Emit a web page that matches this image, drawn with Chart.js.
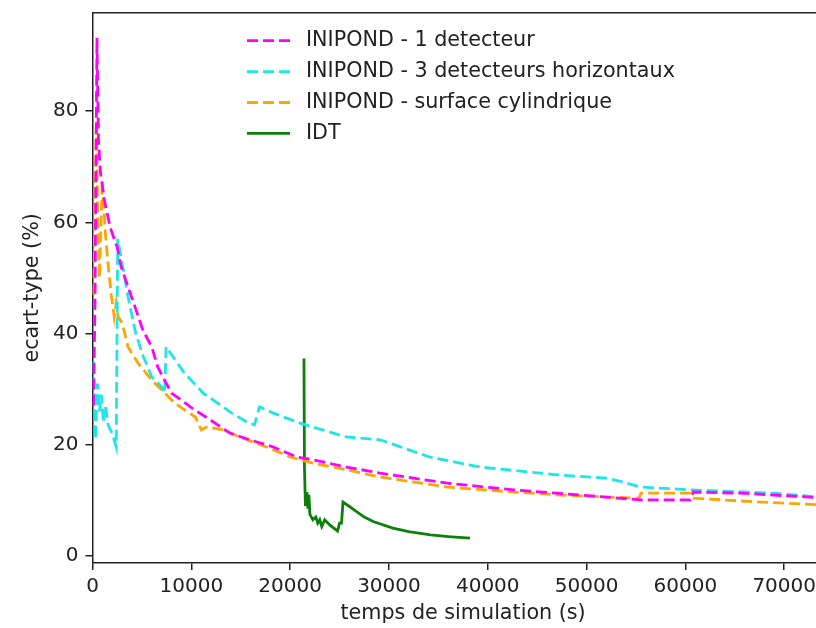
<!DOCTYPE html>
<html>
<head>
<meta charset="utf-8">
<script src="https://cdn.jsdelivr.net/npm/chart.js@4.4.0/dist/chart.umd.min.js"></script>
<style>
  html, body { margin: 0; padding: 0; overflow: hidden; background: #fff; }
  canvas { display: block; }
</style>
</head>
<body>
<canvas id="myChart" width="850" height="628"></canvas>
<script>
// series: time (s) and std deviation (%)
const det1T = [100, 250, 450, 600, 800, 1200, 1800, 2500, 2900, 3600, 4300, 5100, 6000, 6600, 7300, 8000, 9900, 11900, 13900, 15900, 18300, 20700, 22300, 25700, 29100, 35900, 42600, 47000, 52000, 55400, 60500, 60800, 65500, 73500];
const det1V = [27, 45, 93.2, 75, 69, 64, 59, 55.5, 52, 48.4, 44.8, 40.6, 37.6, 34, 31.6, 29.3, 26.8, 24.5, 22.1, 20.9, 19.6, 17.8, 17.3, 16, 14.9, 13.1, 11.9, 11.3, 10.6, 10.1, 10.1, 11.5, 11.3, 10.5];

const det3T = [100, 300, 500, 700, 900, 1100, 1300, 1600, 2000, 2400, 2550, 2990, 3600, 4300, 5000, 6000, 7000, 7300, 7450, 9300, 11200, 14100, 15800, 16400, 16900, 18300, 21000, 22300, 25700, 29100, 34100, 39200, 47000, 52000, 53700, 55400, 60500, 68900, 73500];
const det3V = [35, 21, 31, 26, 29, 24, 27, 23.5, 22, 19.6, 57, 52.7, 46.6, 40.6, 36.5, 32.2, 30.4, 29.3, 37.6, 32.9, 29.3, 25.7, 23.9, 23.6, 26.8, 25.7, 23.9, 23.2, 21.4, 20.9, 17.8, 16, 14.6, 14, 13.3, 12.4, 11.9, 11.3, 10.6];

const cylT = [100, 400, 550, 700, 1000, 1300, 1600, 1900, 2200, 2400, 2600, 3000, 3600, 4600, 6000, 7000, 8300, 10400, 11000, 11600, 13200, 14900, 17600, 20000, 22300, 25700, 29100, 35900, 42600, 47000, 52000, 55300, 55500, 60500, 60800, 65500, 73500];
const cylV = [47, 78.4, 58, 50, 67.6, 58, 52, 47, 43, 45.5, 43, 41.9, 37.6, 34.7, 31.6, 29.9, 27.5, 25, 22.7, 23.2, 22.7, 21.4, 19.6, 17.8, 16.7, 15.5, 14.2, 12.4, 11.5, 11, 10.6, 10.4, 11.3, 11.3, 10.4, 9.9, 9.2];

const idtT = [21400, 21450, 21550, 21700, 21800, 21900, 22000, 22300, 22600, 22800, 23000, 23200, 23500, 24000, 24800, 25000, 25200, 25350, 26000, 26800, 27500, 28400, 30400, 32000, 34200, 36000, 38200];
const idtV = [35.5, 16, 9, 11.5, 8.5, 11, 7.5, 6.5, 7, 5.9, 6.5, 5.3, 6.5, 5.6, 4.5, 5.9, 5.9, 9.7, 8.9, 7.9, 7.0, 6.2, 5.0, 4.4, 3.8, 3.5, 3.2];

const xTicks = [0, 10000, 20000, 30000, 40000, 50000, 60000, 70000];
const yTicks = [0, 20, 40, 60, 80];

const toPoints = (t, v) => t.map((x, i) => ({ x: x, y: v[i] }));

Chart.defaults.font.family = '"DejaVu Sans", sans-serif';
Chart.defaults.font.size = 20;
Chart.defaults.color = '#222';

// matplotlib-like legend in the upper middle of the axes, plus the top spine
const frameAndLegend = {
  id: 'frameAndLegend',
  afterDraw(chart) {
    const ctx = chart.ctx;
    const a = chart.chartArea;
    ctx.save();
    ctx.strokeStyle = '#222';
    ctx.lineWidth = 1.5;
    ctx.beginPath();
    ctx.moveTo(a.left, a.top);
    ctx.lineTo(a.right, a.top);
    ctx.stroke();

    ctx.font = '20.7px "DejaVu Sans"';
    ctx.textBaseline = 'middle';
    chart.data.datasets.forEach((ds, i) => {
      const x = a.left + 154.5;
      const y = a.top + 28 + i * 30.9;
      ctx.strokeStyle = ds.borderColor;
      ctx.lineWidth = ds.borderWidth;
      ctx.setLineDash(ds.borderDash || []);
      ctx.beginPath();
      ctx.moveTo(x, y);
      ctx.lineTo(x + 43, y);
      ctx.stroke();
      ctx.setLineDash([]);
      ctx.fillStyle = '#222';
      ctx.fillText(ds.label, x + 59, y);
    });
    ctx.restore();
  }
};

const ctx = document.getElementById('myChart').getContext('2d');
const myChart = new Chart(ctx, {
  type: 'line',
  data: {
    datasets: [
      {
        label: 'INIPOND - 1 detecteur',
        data: toPoints(det1T, det1V),
        borderColor: '#ff00ff',
        borderWidth: 2.8,
        borderDash: [11, 5],
        pointRadius: 0,
        tension: 0,
        fill: false
      },
      {
        label: 'INIPOND - 3 detecteurs horizontaux',
        data: toPoints(det3T, det3V),
        borderColor: '#1ee6e6',
        borderWidth: 2.8,
        borderDash: [11, 5],
        pointRadius: 0,
        tension: 0,
        fill: false
      },
      {
        label: 'INIPOND - surface cylindrique',
        data: toPoints(cylT, cylV),
        borderColor: '#ffa500',
        borderWidth: 2.8,
        borderDash: [11, 5],
        pointRadius: 0,
        tension: 0,
        fill: false
      },
      {
        label: 'IDT',
        data: toPoints(idtT, idtV),
        borderColor: '#0b800b',
        borderWidth: 2.8,
        pointRadius: 0,
        tension: 0,
        fill: false
      }
    ]
  },
  options: {
    responsive: false,
    animation: false,
    devicePixelRatio: 1,
    layout: { padding: { left: 0, top: 12.7, right: 16.4, bottom: 0 } },
    plugins: {
      legend: { display: false },
      tooltip: { enabled: false }
    },
    scales: {
      x: {
        type: 'linear',
        min: 0,
        max: 75000,
        afterBuildTicks: (s) => { s.ticks = xTicks.map(v => ({ value: v })); },
        afterFit: (s) => { s.height = 65; s.paddingLeft = 0; s.paddingRight = 0; },
        ticks: {
          padding: 5,
          maxRotation: 0,
          autoSkip: false,
          callback: (v) => String(v)
        },
        grid: { drawOnChartArea: false, drawTicks: true, tickLength: 7, color: '#222', lineWidth: 1.5 },
        border: { display: true, color: '#222', width: 1.5 },
        title: { display: true, text: 'temps de simulation (s)', font: { size: 20.7 }, padding: { top: 0, bottom: 2 } }
      },
      y: {
        min: -1.26,
        max: 97.7,
        afterBuildTicks: (s) => { s.ticks = yTicks.map(v => ({ value: v })); },
        afterFit: (s) => { s.width = 92.5; s.paddingTop = 0; s.paddingBottom = 0; },
        ticks: {
          padding: 7,
          autoSkip: false,
          callback: (v) => String(v)
        },
        grid: { drawOnChartArea: false, drawTicks: true, tickLength: 7, color: '#222', lineWidth: 1.5 },
        border: { display: true, color: '#222', width: 1.5 },
        title: { display: true, text: 'ecart-type (%)', font: { size: 20.7 }, padding: { top: 20, bottom: 0 } }
      }
    }
  },
  plugins: [frameAndLegend]
});
</script>
</body>
</html>
